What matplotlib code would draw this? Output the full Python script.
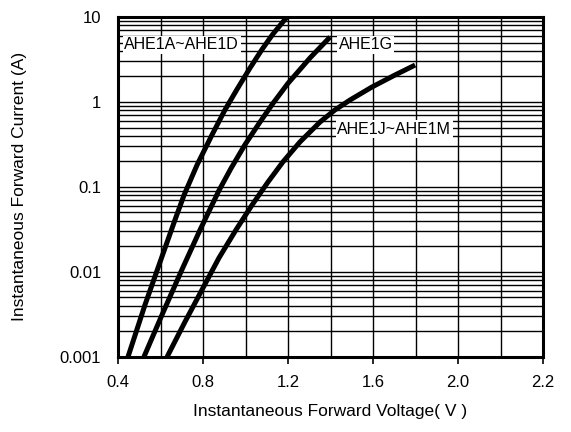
import numpy as np
import matplotlib
matplotlib.use('Agg')
import matplotlib.pyplot as plt
from matplotlib.ticker import MultipleLocator, LogLocator, NullFormatter, FixedLocator

plt.rcParams['font.family'] = ['Liberation Sans', 'DejaVu Sans']

# forward voltage (V) vs instantaneous forward current (A)
v_ad = [0.447, 0.527, 0.598, 0.668, 0.711, 0.772, 0.842, 0.904, 0.96, 1.021, 1.078, 1.129, 1.195]
i_ad = [0.001, 0.0041, 0.0131, 0.0409, 0.0805, 0.1815, 0.409, 0.813, 1.41, 2.51, 4.17, 6.31, 10.0]

v_g = [0.522, 0.607, 0.696, 0.786, 0.875, 0.932, 0.998, 1.059, 1.125, 1.20, 1.304, 1.398]
i_g = [0.001, 0.00312, 0.01, 0.0312, 0.0908, 0.166, 0.316, 0.537, 0.933, 1.66, 3.31, 5.82]

v_jm = [0.631, 0.715, 0.795, 0.875, 0.955, 1.031, 1.106, 1.176, 1.256, 1.351, 1.421, 1.492, 1.595, 1.704, 1.798]
i_jm = [0.001, 0.00258, 0.00614, 0.0146, 0.0312, 0.0614, 0.1145, 0.197, 0.338, 0.582, 0.806, 1.056, 1.5, 2.08, 2.72]

curve_names = ['AHE1A~AHE1D', 'AHE1G', 'AHE1J~AHE1M']
label_pos = [(0.70, 4.7), (1.565, 4.7), (1.70, 0.48)]

# the datasheet marks the last grid line "2.2" although spacing is 0.4 per label
xtick_pos = [0.4, 0.8, 1.2, 1.6, 2.0, 2.4]
xtick_labels = ['0.4', '0.8', '1.2', '1.6', '2.0', '2.2']
ytick_pos = [0.001, 0.01, 0.1, 1, 10]
ytick_labels = ['0.001', '0.01', '0.1', '1', '10']

fig = plt.figure(figsize=(5.71, 4.32), dpi=100)
ax = fig.add_axes([0.2067, 0.174, 0.7443, 0.7866])

for v, i in [(v_ad, i_ad), (v_g, i_g), (v_jm, i_jm)]:
    ax.plot(v, i, color='black', lw=3.6, solid_capstyle='butt', solid_joinstyle='round', zorder=3)

ax.set_yscale('log')
ax.set_xlim(0.4, 2.4)
ax.set_ylim(0.001, 10)

ax.xaxis.set_major_locator(FixedLocator(xtick_pos))
ax.set_xticklabels(xtick_labels)
ax.xaxis.set_minor_locator(MultipleLocator(0.2))
ax.yaxis.set_major_locator(FixedLocator(ytick_pos))
ax.set_yticklabels(ytick_labels)
ax.yaxis.set_minor_locator(LogLocator(base=10, subs=np.arange(2, 10)))
ax.yaxis.set_minor_formatter(NullFormatter())

ax.grid(True, which='both', color='black', lw=1.0, zorder=1)
ax.set_axisbelow(True)

ax.tick_params(axis='x', which='major', direction='out', length=5, width=1.2, pad=8, labelsize=12)
ax.tick_params(axis='x', which='minor', length=0)
ax.tick_params(axis='y', which='both', length=0, pad=12, labelsize=12)

for s in ax.spines.values():
    s.set_linewidth(2.2)
    s.set_color('black')

for name, (x, y) in zip(curve_names, label_pos):
    ax.text(x, y, name, fontsize=11.5, ha='center', va='center', zorder=4,
            bbox=dict(facecolor='white', edgecolor='none', pad=1.0))

ax.set_xlabel('Instantaneous Forward Voltage( V )', fontsize=12.5, labelpad=10)
ax.set_ylabel('Instantaneous Forward Current (A)', fontsize=12.5, labelpad=24)

fig.savefig('out.png', dpi=100)
